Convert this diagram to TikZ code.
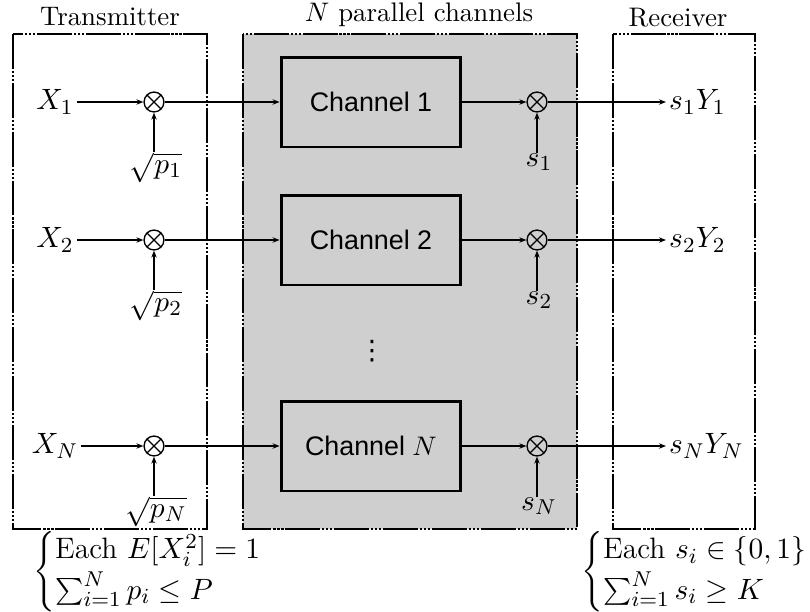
\documentclass[tikz,border=0pt]{standalone}
\usepackage{fontspec}
\newfontfamily\chanfont{Liberation Sans}
\newfontfamily\dejavu{DejaVu Sans}
\usetikzlibrary{arrows.meta}
\begin{document}
\begin{tikzpicture}[x=0.3725pt,y=-0.3725pt,
  border/.style={line width=1.05pt,dash pattern=on 13pt off 0.7pt on 0.8pt off 0.7pt on 0.8pt off 0.7pt on 0.8pt off 0.7pt},
  chan/.style={draw,line width=1.1pt,minimum width=67pt,minimum height=33.5pt,inner sep=0pt,font=\chanfont},
  mul/.style={circle,draw,line width=0.5pt,minimum size=7.4pt,inner sep=0pt,
    path picture={\draw[line width=0.5pt] (path picture bounding box.north west)--(path picture bounding box.south east)
      (path picture bounding box.north east)--(path picture bounding box.south west);}},
  conn/.style={line width=0.8pt,-{Stealth[length=2.6pt,width=2pt]}},
  lab/.style={inner sep=1pt,font=\fontsize{11}{13}\selectfont},
  small/.style={inner sep=0pt,font=\fontsize{11}{13}\selectfont},
  title/.style={inner sep=0pt}]
\useasboundingbox (0,0) rectangle (810,611);
% region boxes
\fill[gray!38] (243,34) rectangle (577,529);
\draw[border] (13,34) rectangle (207,529);
\draw[border] (243,34) rectangle (577,529);
\draw[border] (613,34) rectangle (755,529);
\node[title] (ttx) at (110,17) {Transmitter};
\node[title] (tch) at (419,15) {$N$ parallel channels};
\node[title] (trx) at (678,18) {Receiver};
% rows
\foreach \r/\y/\i/\cl in {a/102/1/1, b/240/2/2, c/446/N/$N$}{
  \node[lab] (x\r) at (55,\y) {$X_{\i}$};
  \node[mul] (m\r) at (154,\y) {};
  \node[small,anchor=north] (p\r) at (156,\y+50) {$\sqrt{p_{\i}}$};
  \node[chan] (c\r) at (371,\y) {Channel \cl};
  \node[mul] (n\r) at (537,\y) {};
  \node[small,anchor=north] (s\r) at (539,\y+51) {$s_{\i}$};
  \node[lab,anchor=west] (y\r) at (666,\y) {$s_{\i}Y_{\i}$};
  \draw[conn] (x\r.east) -- (m\r.west);
  \draw[conn] (m\r.east) -- (c\r.west);
  \draw[conn] (m\r.south |- p\r.north) -- (m\r.south);
  \draw[conn] (c\r.east) -- (n\r.west);
  \draw[conn] (n\r.south |- s\r.north) -- (n\r.south);
  \draw[conn] (n\r.east) -- (y\r.west);
}
\node[inner sep=0pt] (dots) at (372,351) {\dejavu ⋮};
% constraints
\node[lab,anchor=west,inner sep=0pt] (cl) at (33,572)
  {$\left\{\begin{array}{@{}l@{}}\mbox{Each }E[X_i^2]=1\\[1pt] \sum_{i=1}^N p_i\le P\end{array}\right.$};
\node[lab,anchor=west,inner sep=0pt] (cr) at (581,572)
  {$\left\{\begin{array}{@{}l@{}}\mbox{Each }s_i\in\{0,1\}\\[1pt] \sum_{i=1}^N s_i\ge K\end{array}\right.$};
\end{tikzpicture}
\end{document}
